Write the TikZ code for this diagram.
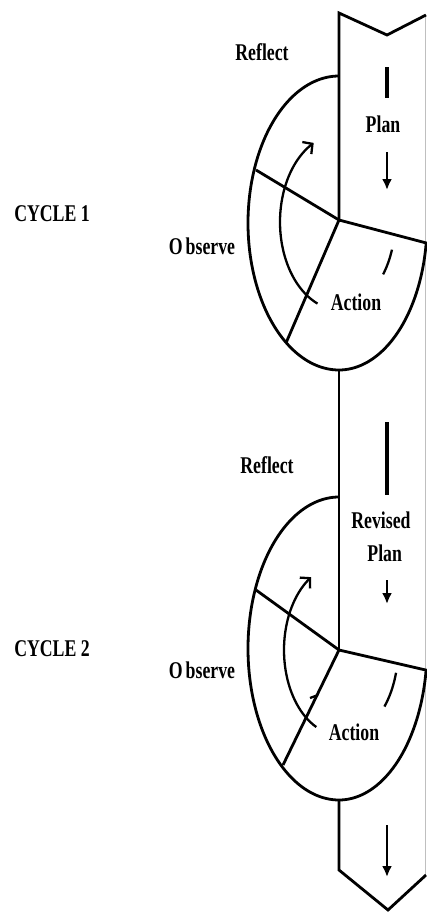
\documentclass[tikz,border=0pt]{standalone}
\usepackage{fontspec}
\setmainfont{Liberation Serif}
\usepackage{graphicx}
\usetikzlibrary{arrows.meta}
\newcommand{\sqz}[1]{\scalebox{0.74}[1]{#1}}
\begin{document}
\begin{tikzpicture}[x=1pt,y=-1pt,
  outl/.style={line width=2.8pt, line join=miter},
  thin/.style={line width=2.3pt},
  lbl/.style={font=\fontsize{24}{33}\selectfont\bfseries, inner sep=0pt, align=center},
  bar/.style={line width=3.2pt},
  downarrow/.style={line width=2.8pt, -{Latex[length=11pt,width=10pt]}},
  curvearrow/.style={line width=2.3pt, -{Straight Barb[length=7pt,width=15pt]}},
]
\useasboundingbox (0,0) rectangle (426,913);

% coordinates
\coordinate (c1) at (339,220);
\coordinate (c2) at (339,650);
\coordinate (t1) at (339,13);
\coordinate (tn) at (387,35);
\coordinate (tr) at (426,15);
\coordinate (b1) at (339,370);
\coordinate (e2) at (339,800);
\coordinate (bl) at (339,870);
\coordinate (bn) at (388,910);
\coordinate (br) at (426,875);
\coordinate (ul1) at (256,170);
\coordinate (ll1) at (286,343);
\coordinate (ul2) at (256,590);
\coordinate (ll2) at (283,765);

% faint right edge of the band
\draw[black!25, line width=0.8pt] (425.5,15) -- (425.5,875);

% band outline
\draw[outl] (tr) -- (tn) -- (t1) -- (c1);
\draw[outl] (b1) -- (c2);
\draw[outl] (e2) -- (bl) -- (bn) -- (br);

% cycle 1 ellipse
\draw[outl] plot[domain=-90:-270, samples=90, smooth] ({339+91*cos(\x)},{223+147*sin(\x)})
  -- plot[domain=90:7.8, samples=40, smooth] ({339+88*cos(\x)},{223+147*sin(\x)}) -- (c1);
\draw[outl] (c1) -- (ul1);
\draw[outl] (c1) -- (ll1);

% cycle 2 ellipse
\draw[outl] plot[domain=-90:-270, samples=90, smooth] ({339+91*cos(\x)},{648.5+151.5*sin(\x)})
  -- plot[domain=90:8.2, samples=40, smooth] ({339+88*cos(\x)},{648.5+151.5*sin(\x)}) -- (c2);
\draw[outl] (c2) -- (ul2);
\draw[outl] (c2) -- (ll2);

% curved arrows
\draw[curvearrow] plot[domain=112:244, samples=40, smooth] ({340+60*cos(\x)},{222+88*sin(\x)});
\draw[curvearrow] plot[domain=115:239, samples=40, smooth] ({340+56*cos(\x)},{650+85*sin(\x)});

% dashed arc fragments
\draw[thin] plot[domain=19:38, samples=10, smooth] ({339+56*cos(\x)},{222+85*sin(\x)});
\draw[thin] plot[domain=15:40, samples=10, smooth] ({340+58*cos(\x)},{650+88*sin(\x)});
\coordinate (k1) at (310,698);
\coordinate (k2) at (318,695);
\draw[thin] (k1) -- (k2);

% plan arrows
\coordinate (p1a) at (387,67);  \coordinate (p1b) at (387,98);
\coordinate (p1c) at (387,152); \coordinate (p1d) at (387,190);
\coordinate (p2a) at (387,422); \coordinate (p2b) at (387,495);
\coordinate (p2c) at (387,580); \coordinate (p2d) at (387,604);
\coordinate (p3a) at (387,825); \coordinate (p3b) at (387,877);
\draw[bar] (p1a) -- (p1b);
\draw[downarrow] (p1c) -- (p1d);
\draw[bar] (p2a) -- (p2b);
\draw[downarrow] (p2c) -- (p2d);
\draw[downarrow] (p3a) -- (p3b);

% labels
\node[lbl] (reflect1) at (262,52) {\sqz{Reflect}};
\node[lbl] (plan1) at (383,124) {\sqz{Plan}};
\node[lbl] (observe1) at (202,246) {\sqz{O\kern4pt bserve}};
\node[lbl] (action1) at (356,302) {\sqz{Action}};
\node[lbl] (cycle1) at (52,214) {\sqz{CYCLE 1}};

\node[lbl] (reflect2) at (267,465) {\sqz{Reflect}};
\node[lbl] (plan2) at (381,537) {\sqz{Revised}\\\sqz{\kern10pt Plan}};
\node[lbl] (observe2) at (202,670) {\sqz{O\kern4pt bserve}};
\node[lbl] (action2) at (354,732) {\sqz{Action}};
\node[lbl] (cycle2) at (52,649) {\sqz{CYCLE 2}};
\end{tikzpicture}
\end{document}
